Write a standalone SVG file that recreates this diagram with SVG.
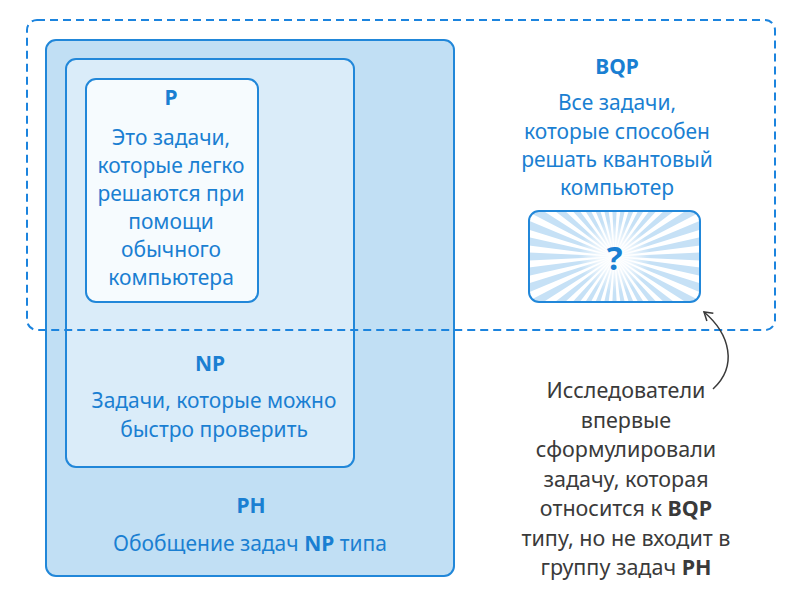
<svg xmlns="http://www.w3.org/2000/svg" xmlns:xlink="http://www.w3.org/1999/xlink" width="803" height="600" viewBox="0 0 803 600">
<defs>
<style>
.box{stroke:#2187d9;stroke-width:2}
.t{font-family:"Noto Sans","Open Sans",sans-serif;font-size:21px;fill:#1a7fd2;text-anchor:middle}
.b{font-weight:bold}
.a{font-family:"Noto Sans","Open Sans",sans-serif;font-size:21.5px;fill:#3a3a3a;text-anchor:middle}
.ray{fill:#c6e1f6}
</style>
<clipPath id="clipq"><rect x="529" y="211" width="171" height="91" rx="10"/></clipPath>
<polygon id="ray" points="0,0 140,-6.5 140,6.5"/>
<radialGradient id="glow" cx="0.5" cy="0.5" r="0.5">
<stop offset="0" stop-color="#fff" stop-opacity="1"/>
<stop offset="0.4" stop-color="#fff" stop-opacity="0.8"/>
<stop offset="1" stop-color="#fff" stop-opacity="0"/>
</radialGradient>
<marker id="arr" viewBox="0 0 12 12" refX="10" refY="6" markerWidth="12" markerHeight="12" markerUnits="userSpaceOnUse" orient="auto">
<path d="M2,1 L10,6 L2,11" fill="none" stroke="#3a3a3a" stroke-width="1.5"/>
</marker>
</defs>
<rect width="803" height="600" fill="#fff"/>
<g id="PH">
<rect class="box" x="46" y="40" width="408" height="536" rx="10" fill="#c1dff4"/>
<text class="t b" x="251" y="513">PH</text>
<text class="t" x="250" y="551">Обобщение задач <tspan class="b">NP</tspan> типа</text>
</g>
<g id="NP">
<rect class="box" x="66" y="59" width="288" height="408" rx="10" fill="#daecf9"/>
<text class="t b" x="210" y="371">NP</text>
<text class="t" x="214" y="408">Задачи, которые можно</text>
<text class="t" x="214" y="437">быстро проверить</text>
</g>
<g id="P">
<rect class="box" x="86" y="79" width="172" height="223" rx="10" fill="#f6fbfe"/>
<text class="t b" x="171" y="105">P</text>
<text class="t" x="171" y="145">Это задачи,</text>
<text class="t" x="171" y="173">которые легко</text>
<text class="t" x="171" y="201">решаются при</text>
<text class="t" x="171" y="229">помощи</text>
<text class="t" x="171" y="257">обычного</text>
<text class="t" x="171" y="285">компьютера</text>
</g>
<g id="BQP">
<rect x="27" y="20" width="748" height="310" rx="10" fill="none" stroke="#1c84de" stroke-width="2" stroke-dasharray="8 5"/>
<text class="t b" x="617" y="74">BQP</text>
<text class="t" x="617" y="110">Все задачи,</text>
<text class="t" x="617" y="139">которые способен</text>
<text class="t" x="617" y="167">решать квантовый</text>
<text class="t" x="617" y="195">компьютер</text>
</g>
<g id="quantum">
<rect x="529" y="211" width="171" height="91" rx="10" fill="#fff"/>
<g clip-path="url(#clipq)">
<g transform="translate(614.5,256.5)">
<use xlink:href="#ray" class="ray" transform="rotate(0)"/>
<use xlink:href="#ray" class="ray" transform="rotate(10)"/>
<use xlink:href="#ray" class="ray" transform="rotate(20)"/>
<use xlink:href="#ray" class="ray" transform="rotate(30)"/>
<use xlink:href="#ray" class="ray" transform="rotate(40)"/>
<use xlink:href="#ray" class="ray" transform="rotate(50)"/>
<use xlink:href="#ray" class="ray" transform="rotate(60)"/>
<use xlink:href="#ray" class="ray" transform="rotate(70)"/>
<use xlink:href="#ray" class="ray" transform="rotate(80)"/>
<use xlink:href="#ray" class="ray" transform="rotate(90)"/>
<use xlink:href="#ray" class="ray" transform="rotate(100)"/>
<use xlink:href="#ray" class="ray" transform="rotate(110)"/>
<use xlink:href="#ray" class="ray" transform="rotate(120)"/>
<use xlink:href="#ray" class="ray" transform="rotate(130)"/>
<use xlink:href="#ray" class="ray" transform="rotate(140)"/>
<use xlink:href="#ray" class="ray" transform="rotate(150)"/>
<use xlink:href="#ray" class="ray" transform="rotate(160)"/>
<use xlink:href="#ray" class="ray" transform="rotate(170)"/>
<use xlink:href="#ray" class="ray" transform="rotate(180)"/>
<use xlink:href="#ray" class="ray" transform="rotate(190)"/>
<use xlink:href="#ray" class="ray" transform="rotate(200)"/>
<use xlink:href="#ray" class="ray" transform="rotate(210)"/>
<use xlink:href="#ray" class="ray" transform="rotate(220)"/>
<use xlink:href="#ray" class="ray" transform="rotate(230)"/>
<use xlink:href="#ray" class="ray" transform="rotate(240)"/>
<use xlink:href="#ray" class="ray" transform="rotate(250)"/>
<use xlink:href="#ray" class="ray" transform="rotate(260)"/>
<use xlink:href="#ray" class="ray" transform="rotate(270)"/>
<use xlink:href="#ray" class="ray" transform="rotate(280)"/>
<use xlink:href="#ray" class="ray" transform="rotate(290)"/>
<use xlink:href="#ray" class="ray" transform="rotate(300)"/>
<use xlink:href="#ray" class="ray" transform="rotate(310)"/>
<use xlink:href="#ray" class="ray" transform="rotate(320)"/>
<use xlink:href="#ray" class="ray" transform="rotate(330)"/>
<use xlink:href="#ray" class="ray" transform="rotate(340)"/>
<use xlink:href="#ray" class="ray" transform="rotate(350)"/>
<circle r="36" fill="url(#glow)"/>
</g>
</g>
<rect x="529" y="211" width="171" height="91" rx="10" fill="none" stroke="#2187d9" stroke-width="2"/>
<text x="614.5" y="270" font-family="'Noto Sans',sans-serif" font-weight="bold" font-size="33" fill="#1a7fd2" text-anchor="middle">?</text>
</g>
<g id="note">
<text class="a" x="626" y="398">Исследователи</text>
<text class="a" x="626" y="428">впервые</text>
<text class="a" x="626" y="457">сформулировали</text>
<text class="a" x="626" y="487">задачу, которая</text>
<text class="a" x="626" y="516">относится к <tspan font-weight="bold">BQP</tspan></text>
<text class="a" x="626" y="546">типу, но не входит в</text>
<text class="a" x="626" y="575">группу задач <tspan font-weight="bold">PH</tspan></text>
</g>
<g id="connectors">
<path d="M713,389 C738,366 730,334 704,312" fill="none" stroke="#3a3a3a" stroke-width="1.5" marker-end="url(#arr)"/>
</g>
</svg>
